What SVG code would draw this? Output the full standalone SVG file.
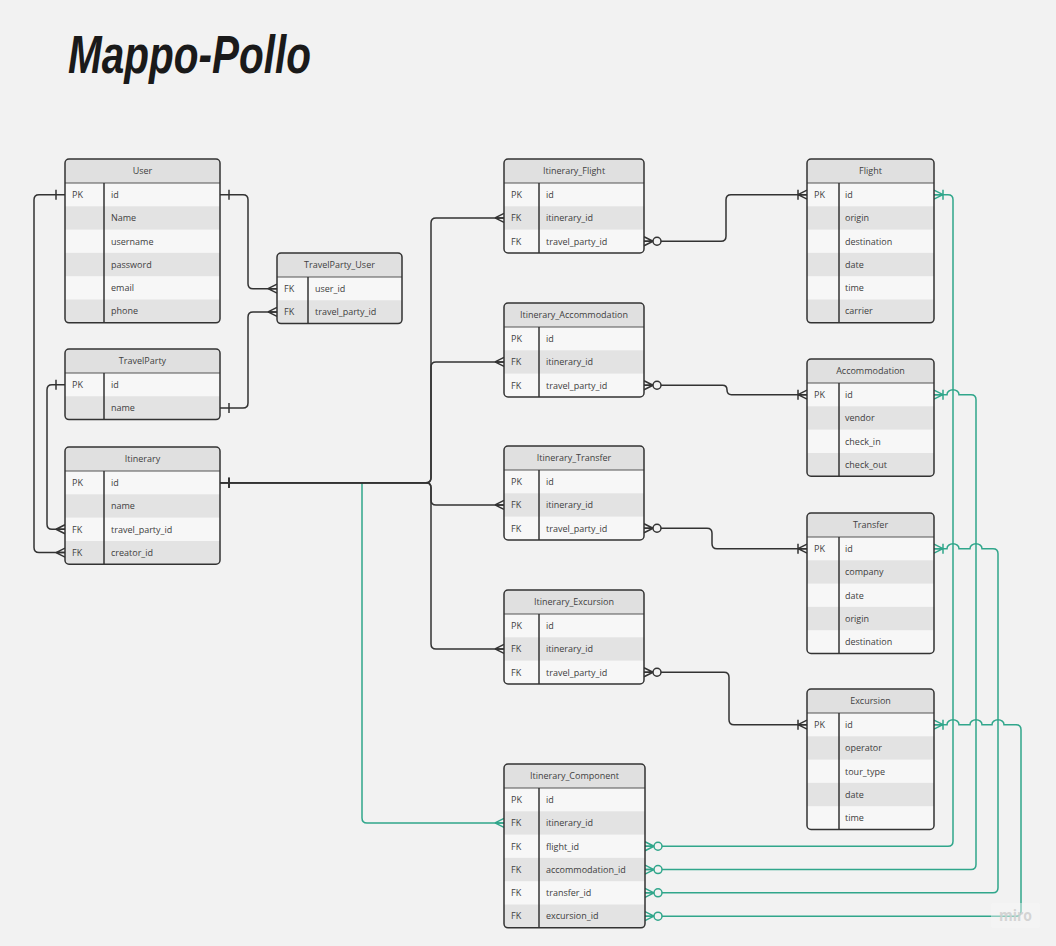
<svg xmlns="http://www.w3.org/2000/svg" width="1056" height="946" viewBox="0 0 1056 946">
<style>
.bd{fill:#f7f7f7}
.hd{fill:#e0e0e0}
.dk{fill:#e3e3e3}
.ln{fill:none;stroke:#333;stroke-width:1.5}
.sp{stroke:#555;stroke-width:1}
.t{font-family:"Open Sans","Liberation Sans",sans-serif;font-size:9px;fill:#404040}
.th{text-anchor:middle}
.c{fill:none;stroke:#333;stroke-width:1.5}
.g{fill:none;stroke:#30a68b;stroke-width:1.5}
.mc{fill:none;stroke:#333;stroke-width:1.5}
.mg{fill:none;stroke:#30a68b;stroke-width:1.5}
</style>
<defs>
<marker id="one" viewBox="-20 -10 24 20" refX="0" refY="0" markerWidth="24" markerHeight="20" markerUnits="userSpaceOnUse" orient="auto-start-reverse" overflow="visible"><path class="mc" d="M-9,-5 V5"/></marker>
<marker id="many" viewBox="-20 -10 24 20" refX="0" refY="0" markerWidth="24" markerHeight="20" markerUnits="userSpaceOnUse" orient="auto-start-reverse" overflow="visible"><path class="mc" d="M-9,0 L0,-4.5 M-9,0 L0,4.5 M-9,0 L0,0"/></marker>
<marker id="zmany" viewBox="-20 -10 24 20" refX="0" refY="0" markerWidth="24" markerHeight="20" markerUnits="userSpaceOnUse" orient="auto-start-reverse" overflow="visible"><path class="mc" d="M-9,0 L0,-4.5 M-9,0 L0,4.5 M-9,0 L0,0"/><circle class="mc" cx="-13" cy="0" r="4" style="fill:#f2f2f2"/></marker>
<marker id="omany" viewBox="-20 -10 24 20" refX="0" refY="0" markerWidth="24" markerHeight="20" markerUnits="userSpaceOnUse" orient="auto-start-reverse" overflow="visible"><path class="mc" d="M-9,0 L0,-4.5 M-9,0 L0,4.5 M-9,0 L0,0 M-9,-5 V5"/></marker>
<marker id="gmany" viewBox="-20 -10 24 20" refX="0" refY="0" markerWidth="24" markerHeight="20" markerUnits="userSpaceOnUse" orient="auto-start-reverse" overflow="visible"><path class="mg" d="M-9,0 L0,-4.5 M-9,0 L0,4.5 M-9,0 L0,0"/></marker>
<marker id="gzmany" viewBox="-20 -10 24 20" refX="0" refY="0" markerWidth="24" markerHeight="20" markerUnits="userSpaceOnUse" orient="auto-start-reverse" overflow="visible"><path class="mg" d="M-9,0 L0,-4.5 M-9,0 L0,4.5 M-9,0 L0,0"/><circle class="mg" cx="-13" cy="0" r="4" style="fill:#f2f2f2"/></marker>
<marker id="gomany" viewBox="-20 -10 24 20" refX="0" refY="0" markerWidth="24" markerHeight="20" markerUnits="userSpaceOnUse" orient="auto-start-reverse" overflow="visible"><path class="mg" d="M-9,0 L0,-4.5 M-9,0 L0,4.5 M-9,0 L0,0 M-9,-5 V5"/></marker>
</defs>
<rect width="1056" height="946" fill="#f2f2f2"/>
<text x="68" y="73" font-family="Liberation Sans, sans-serif" font-size="54" font-weight="700" font-style="italic" fill="#1a1a1a" textLength="243" lengthAdjust="spacingAndGlyphs">Mappo-Pollo</text>

<g id="connectors">
<path class="g" d="M362,482.65 V817.95 Q362,822.95 367,822.95 H504" marker-end="url(#gmany)"/>
<path class="g" d="M645,846.25 H948 Q953,846.25 953,841.25 V199.65 Q953,194.65 948,194.65 H934" marker-start="url(#gzmany)" marker-end="url(#gomany)"/>
<path class="g" d="M645,869.55 H971 Q976,869.55 976,864.55 V399.65 Q976,394.65 971,394.65 H959 a6,5 0 0 0 -12,0 H934" marker-start="url(#gzmany)" marker-end="url(#gomany)"/>
<path class="g" d="M645,892.85 H993 Q998,892.85 998,887.85 V553.65 Q998,548.65 993,548.65 H982 a6,5 0 0 0 -12,0 H959 a6,5 0 0 0 -12,0 H934" marker-start="url(#gzmany)" marker-end="url(#gomany)"/>
<path class="g" d="M645,916.15 H1016 Q1021,916.15 1021,911.15 V729.65 Q1021,724.65 1016,724.65 H1004 a6,5 0 0 0 -12,0 H982 a6,5 0 0 0 -12,0 H959 a6,5 0 0 0 -12,0 H934" marker-start="url(#gzmany)" marker-end="url(#gomany)"/>

<path class="c" d="M65,194.65 H39 Q34,194.65 34,199.65 V547.55 Q34,552.55 39,552.55 H65" marker-start="url(#one)" marker-end="url(#many)"/>
<path class="c" d="M220,194.65 H243 Q248,194.65 248,199.65 V283.65 Q248,288.65 253,288.65 H277" marker-start="url(#one)" marker-end="url(#many)"/>
<path class="c" d="M220,407.95 H243 Q248,407.95 248,402.95 V316.95 Q248,311.95 253,311.95 H277" marker-start="url(#one)" marker-end="url(#many)"/>
<path class="c" d="M65,384.65 H52 Q47,384.65 47,389.65 V524.25 Q47,529.25 52,529.25 H65" marker-start="url(#one)" marker-end="url(#many)"/>
<path class="c" d="M220,482.65 H426 Q431,482.65 431,477.65 V222.95 Q431,217.95 436,217.95 H504" marker-start="url(#one)" marker-end="url(#many)"/>
<path class="c" d="M220,482.65 H426 Q431,482.65 431,477.65 V366.95 Q431,361.95 436,361.95 H504" marker-start="url(#one)" marker-end="url(#many)"/>
<path class="c" d="M220,482.65 H426 Q431,482.65 431,487.65 V499.95 Q431,504.95 436,504.95 H504" marker-start="url(#one)" marker-end="url(#many)"/>
<path class="c" d="M220,482.65 H426 Q431,482.65 431,487.65 V643.95 Q431,648.95 436,648.95 H504" marker-start="url(#one)" marker-end="url(#many)"/>
<path class="c" d="M644,241.25 H721 Q726,241.25 726,236.25 V199.65 Q726,194.65 731,194.65 H807" marker-start="url(#zmany)" marker-end="url(#omany)"/>
<path class="c" d="M644,385.25 H722.5 Q727,385.25 727,389.95 Q727,394.65 731.5,394.65 H807" marker-start="url(#zmany)" marker-end="url(#omany)"/>
<path class="c" d="M644,528.25 H707 Q712,528.25 712,533.25 V543.65 Q712,548.65 717,548.65 H807" marker-start="url(#zmany)" marker-end="url(#omany)"/>
<path class="c" d="M644,672.25 H724 Q729,672.25 729,677.25 V719.65 Q729,724.65 734,724.65 H807" marker-start="url(#zmany)" marker-end="url(#omany)"/>
</g>

<g id="user">
<rect class="bd" x="65" y="159" width="155" height="163.8" rx="4"/>
<path class="hd" d="M65,183 V163 a4,4 0 0 1 4,-4 H216 a4,4 0 0 1 4,4 V183 Z"/>
<rect class="dk" x="65" y="206.3" width="155" height="23.3"/>
<rect class="dk" x="65" y="252.9" width="155" height="23.3"/>
<path class="dk" d="M65,299.5 H220 V318.8 a4,4 0 0 1 -4,4 H69 a4,4 0 0 1 -4,-4 Z"/>
<line class="sp" x1="65" y1="183" x2="220" y2="183"/>
<line class="ln" x1="104" y1="183" x2="104" y2="322.8"/>
<rect class="ln" x="65" y="159" width="155" height="163.8" rx="4"/>
<text class="t th" x="142.5" y="174.2">User</text>
<text class="t" x="72" y="197.9">PK</text><text class="t" x="111" y="197.9">id</text>
<text class="t" x="111" y="221.2">Name</text>
<text class="t" x="111" y="244.5">username</text>
<text class="t" x="111" y="267.8">password</text>
<text class="t" x="111" y="291.1">email</text>
<text class="t" x="111" y="314.4">phone</text>
</g>

<g id="travelparty_user">
<rect class="bd" x="277" y="253" width="125" height="70.6" rx="4"/>
<path class="hd" d="M277,277 V257 a4,4 0 0 1 4,-4 H398 a4,4 0 0 1 4,4 V277 Z"/>
<path class="dk" d="M277,300.3 H402 V319.6 a4,4 0 0 1 -4,4 H281 a4,4 0 0 1 -4,-4 Z"/>
<line class="sp" x1="277" y1="277" x2="402" y2="277"/>
<line class="ln" x1="308" y1="277" x2="308" y2="323.6"/>
<rect class="ln" x="277" y="253" width="125" height="70.6" rx="4"/>
<text class="t th" x="339.5" y="268.2">TravelParty_User</text>
<text class="t" x="284" y="291.9">FK</text><text class="t" x="315" y="291.9">user_id</text>
<text class="t" x="284" y="315.2">FK</text><text class="t" x="315" y="315.2">travel_party_id</text>
</g>

<g id="travelparty">
<rect class="bd" x="65" y="349" width="155" height="70.6" rx="4"/>
<path class="hd" d="M65,373 V353 a4,4 0 0 1 4,-4 H216 a4,4 0 0 1 4,4 V373 Z"/>
<path class="dk" d="M65,396.3 H220 V415.6 a4,4 0 0 1 -4,4 H69 a4,4 0 0 1 -4,-4 Z"/>
<line class="sp" x1="65" y1="373" x2="220" y2="373"/>
<line class="ln" x1="104" y1="373" x2="104" y2="419.6"/>
<rect class="ln" x="65" y="349" width="155" height="70.6" rx="4"/>
<text class="t th" x="142.5" y="364.2">TravelParty</text>
<text class="t" x="72" y="387.9">PK</text><text class="t" x="111" y="387.9">id</text>
<text class="t" x="111" y="411.2">name</text>
</g>

<g id="itinerary">
<rect class="bd" x="65" y="447" width="155" height="117.2" rx="4"/>
<path class="hd" d="M65,471 V451 a4,4 0 0 1 4,-4 H216 a4,4 0 0 1 4,4 V471 Z"/>
<rect class="dk" x="65" y="494.3" width="155" height="23.3"/>
<path class="dk" d="M65,540.9 H220 V560.2 a4,4 0 0 1 -4,4 H69 a4,4 0 0 1 -4,-4 Z"/>
<line class="sp" x1="65" y1="471" x2="220" y2="471"/>
<line class="ln" x1="104" y1="471" x2="104" y2="564.2"/>
<rect class="ln" x="65" y="447" width="155" height="117.2" rx="4"/>
<text class="t th" x="142.5" y="462.2">Itinerary</text>
<text class="t" x="72" y="485.9">PK</text><text class="t" x="111" y="485.9">id</text>
<text class="t" x="111" y="509.2">name</text>
<text class="t" x="72" y="532.5">FK</text><text class="t" x="111" y="532.5">travel_party_id</text>
<text class="t" x="72" y="555.8">FK</text><text class="t" x="111" y="555.8">creator_id</text>
</g>

<g id="itinerary_flight">
<rect class="bd" x="504" y="159" width="140" height="93.9" rx="4"/>
<path class="hd" d="M504,183 V163 a4,4 0 0 1 4,-4 H640 a4,4 0 0 1 4,4 V183 Z"/>
<rect class="dk" x="504" y="206.3" width="140" height="23.3"/>
<line class="sp" x1="504" y1="183" x2="644" y2="183"/>
<line class="ln" x1="539" y1="183" x2="539" y2="252.9"/>
<rect class="ln" x="504" y="159" width="140" height="93.9" rx="4"/>
<text class="t th" x="574" y="174.2">Itinerary_Flight</text>
<text class="t" x="511" y="197.9">PK</text><text class="t" x="546" y="197.9">id</text>
<text class="t" x="511" y="221.2">FK</text><text class="t" x="546" y="221.2">itinerary_id</text>
<text class="t" x="511" y="244.5">FK</text><text class="t" x="546" y="244.5">travel_party_id</text>
</g>

<g id="itinerary_accommodation">
<rect class="bd" x="504" y="303" width="140" height="93.9" rx="4"/>
<path class="hd" d="M504,327 V307 a4,4 0 0 1 4,-4 H640 a4,4 0 0 1 4,4 V327 Z"/>
<rect class="dk" x="504" y="350.3" width="140" height="23.3"/>
<line class="sp" x1="504" y1="327" x2="644" y2="327"/>
<line class="ln" x1="539" y1="327" x2="539" y2="396.9"/>
<rect class="ln" x="504" y="303" width="140" height="93.9" rx="4"/>
<text class="t th" x="574" y="318.2">Itinerary_Accommodation</text>
<text class="t" x="511" y="341.9">PK</text><text class="t" x="546" y="341.9">id</text>
<text class="t" x="511" y="365.2">FK</text><text class="t" x="546" y="365.2">itinerary_id</text>
<text class="t" x="511" y="388.5">FK</text><text class="t" x="546" y="388.5">travel_party_id</text>
</g>

<g id="itinerary_transfer">
<rect class="bd" x="504" y="446" width="140" height="93.9" rx="4"/>
<path class="hd" d="M504,470 V450 a4,4 0 0 1 4,-4 H640 a4,4 0 0 1 4,4 V470 Z"/>
<rect class="dk" x="504" y="493.3" width="140" height="23.3"/>
<line class="sp" x1="504" y1="470" x2="644" y2="470"/>
<line class="ln" x1="539" y1="470" x2="539" y2="539.9"/>
<rect class="ln" x="504" y="446" width="140" height="93.9" rx="4"/>
<text class="t th" x="574" y="461.2">Itinerary_Transfer</text>
<text class="t" x="511" y="484.9">PK</text><text class="t" x="546" y="484.9">id</text>
<text class="t" x="511" y="508.2">FK</text><text class="t" x="546" y="508.2">itinerary_id</text>
<text class="t" x="511" y="531.5">FK</text><text class="t" x="546" y="531.5">travel_party_id</text>
</g>

<g id="itinerary_excursion">
<rect class="bd" x="504" y="590" width="140" height="93.9" rx="4"/>
<path class="hd" d="M504,614 V594 a4,4 0 0 1 4,-4 H640 a4,4 0 0 1 4,4 V614 Z"/>
<rect class="dk" x="504" y="637.3" width="140" height="23.3"/>
<line class="sp" x1="504" y1="614" x2="644" y2="614"/>
<line class="ln" x1="539" y1="614" x2="539" y2="683.9"/>
<rect class="ln" x="504" y="590" width="140" height="93.9" rx="4"/>
<text class="t th" x="574" y="605.2">Itinerary_Excursion</text>
<text class="t" x="511" y="628.9">PK</text><text class="t" x="546" y="628.9">id</text>
<text class="t" x="511" y="652.2">FK</text><text class="t" x="546" y="652.2">itinerary_id</text>
<text class="t" x="511" y="675.5">FK</text><text class="t" x="546" y="675.5">travel_party_id</text>
</g>

<g id="itinerary_component">
<rect class="bd" x="504" y="764" width="141" height="163.8" rx="4"/>
<path class="hd" d="M504,788 V768 a4,4 0 0 1 4,-4 H641 a4,4 0 0 1 4,4 V788 Z"/>
<rect class="dk" x="504" y="811.3" width="141" height="23.3"/>
<rect class="dk" x="504" y="857.9" width="141" height="23.3"/>
<path class="dk" d="M504,904.5 H645 V923.8 a4,4 0 0 1 -4,4 H508 a4,4 0 0 1 -4,-4 Z"/>
<line class="sp" x1="504" y1="788" x2="645" y2="788"/>
<line class="ln" x1="539" y1="788" x2="539" y2="927.8"/>
<rect class="ln" x="504" y="764" width="141" height="163.8" rx="4"/>
<text class="t th" x="574.5" y="779.2">Itinerary_Component</text>
<text class="t" x="511" y="802.9">PK</text><text class="t" x="546" y="802.9">id</text>
<text class="t" x="511" y="826.2">FK</text><text class="t" x="546" y="826.2">itinerary_id</text>
<text class="t" x="511" y="849.5">FK</text><text class="t" x="546" y="849.5">flight_id</text>
<text class="t" x="511" y="872.8">FK</text><text class="t" x="546" y="872.8">accommodation_id</text>
<text class="t" x="511" y="896.1">FK</text><text class="t" x="546" y="896.1">transfer_id</text>
<text class="t" x="511" y="919.4">FK</text><text class="t" x="546" y="919.4">excursion_id</text>
</g>

<g id="flight">
<rect class="bd" x="807" y="159" width="127" height="163.8" rx="4"/>
<path class="hd" d="M807,183 V163 a4,4 0 0 1 4,-4 H930 a4,4 0 0 1 4,4 V183 Z"/>
<rect class="dk" x="807" y="206.3" width="127" height="23.3"/>
<rect class="dk" x="807" y="252.9" width="127" height="23.3"/>
<path class="dk" d="M807,299.5 H934 V318.8 a4,4 0 0 1 -4,4 H811 a4,4 0 0 1 -4,-4 Z"/>
<line class="sp" x1="807" y1="183" x2="934" y2="183"/>
<line class="ln" x1="839" y1="183" x2="839" y2="322.8"/>
<rect class="ln" x="807" y="159" width="127" height="163.8" rx="4"/>
<text class="t th" x="870.5" y="174.2">Flight</text>
<text class="t" x="814" y="197.9">PK</text><text class="t" x="845" y="197.9">id</text>
<text class="t" x="845" y="221.2">origin</text>
<text class="t" x="845" y="244.5">destination</text>
<text class="t" x="845" y="267.8">date</text>
<text class="t" x="845" y="291.1">time</text>
<text class="t" x="845" y="314.4">carrier</text>
</g>

<g id="accommodation">
<rect class="bd" x="807" y="359" width="127" height="117.2" rx="4"/>
<path class="hd" d="M807,383 V363 a4,4 0 0 1 4,-4 H930 a4,4 0 0 1 4,4 V383 Z"/>
<rect class="dk" x="807" y="406.3" width="127" height="23.3"/>
<path class="dk" d="M807,452.9 H934 V472.2 a4,4 0 0 1 -4,4 H811 a4,4 0 0 1 -4,-4 Z"/>
<line class="sp" x1="807" y1="383" x2="934" y2="383"/>
<line class="ln" x1="839" y1="383" x2="839" y2="476.2"/>
<rect class="ln" x="807" y="359" width="127" height="117.2" rx="4"/>
<text class="t th" x="870.5" y="374.2">Accommodation</text>
<text class="t" x="814" y="397.9">PK</text><text class="t" x="845" y="397.9">id</text>
<text class="t" x="845" y="421.2">vendor</text>
<text class="t" x="845" y="444.5">check_in</text>
<text class="t" x="845" y="467.8">check_out</text>
</g>

<g id="transfer">
<rect class="bd" x="807" y="513" width="127" height="140.5" rx="4"/>
<path class="hd" d="M807,537 V517 a4,4 0 0 1 4,-4 H930 a4,4 0 0 1 4,4 V537 Z"/>
<rect class="dk" x="807" y="560.3" width="127" height="23.3"/>
<rect class="dk" x="807" y="606.9" width="127" height="23.3"/>
<line class="sp" x1="807" y1="537" x2="934" y2="537"/>
<line class="ln" x1="839" y1="537" x2="839" y2="653.5"/>
<rect class="ln" x="807" y="513" width="127" height="140.5" rx="4"/>
<text class="t th" x="870.5" y="528.2">Transfer</text>
<text class="t" x="814" y="551.9">PK</text><text class="t" x="845" y="551.9">id</text>
<text class="t" x="845" y="575.2">company</text>
<text class="t" x="845" y="598.5">date</text>
<text class="t" x="845" y="621.8">origin</text>
<text class="t" x="845" y="645.1">destination</text>
</g>

<g id="excursion">
<rect class="bd" x="807" y="689" width="127" height="140.5" rx="4"/>
<path class="hd" d="M807,713 V693 a4,4 0 0 1 4,-4 H930 a4,4 0 0 1 4,4 V713 Z"/>
<rect class="dk" x="807" y="736.3" width="127" height="23.3"/>
<rect class="dk" x="807" y="782.9" width="127" height="23.3"/>
<line class="sp" x1="807" y1="713" x2="934" y2="713"/>
<line class="ln" x1="839" y1="713" x2="839" y2="829.5"/>
<rect class="ln" x="807" y="689" width="127" height="140.5" rx="4"/>
<text class="t th" x="870.5" y="704.2">Excursion</text>
<text class="t" x="814" y="727.9">PK</text><text class="t" x="845" y="727.9">id</text>
<text class="t" x="845" y="751.2">operator</text>
<text class="t" x="845" y="774.5">tour_type</text>
<text class="t" x="845" y="797.8">date</text>
<text class="t" x="845" y="821.1">time</text>
</g>

<g id="watermark">
<rect x="991" y="903" width="49" height="25" rx="2" fill="#f7f7f7" fill-opacity="0.45"/>
<text x="999" y="921" font-family="Open Sans, Liberation Sans, sans-serif" font-size="16" font-weight="700" fill="#d0d0d0" fill-opacity="0.9" textLength="33" lengthAdjust="spacingAndGlyphs">miro</text>
</g>
</svg>
